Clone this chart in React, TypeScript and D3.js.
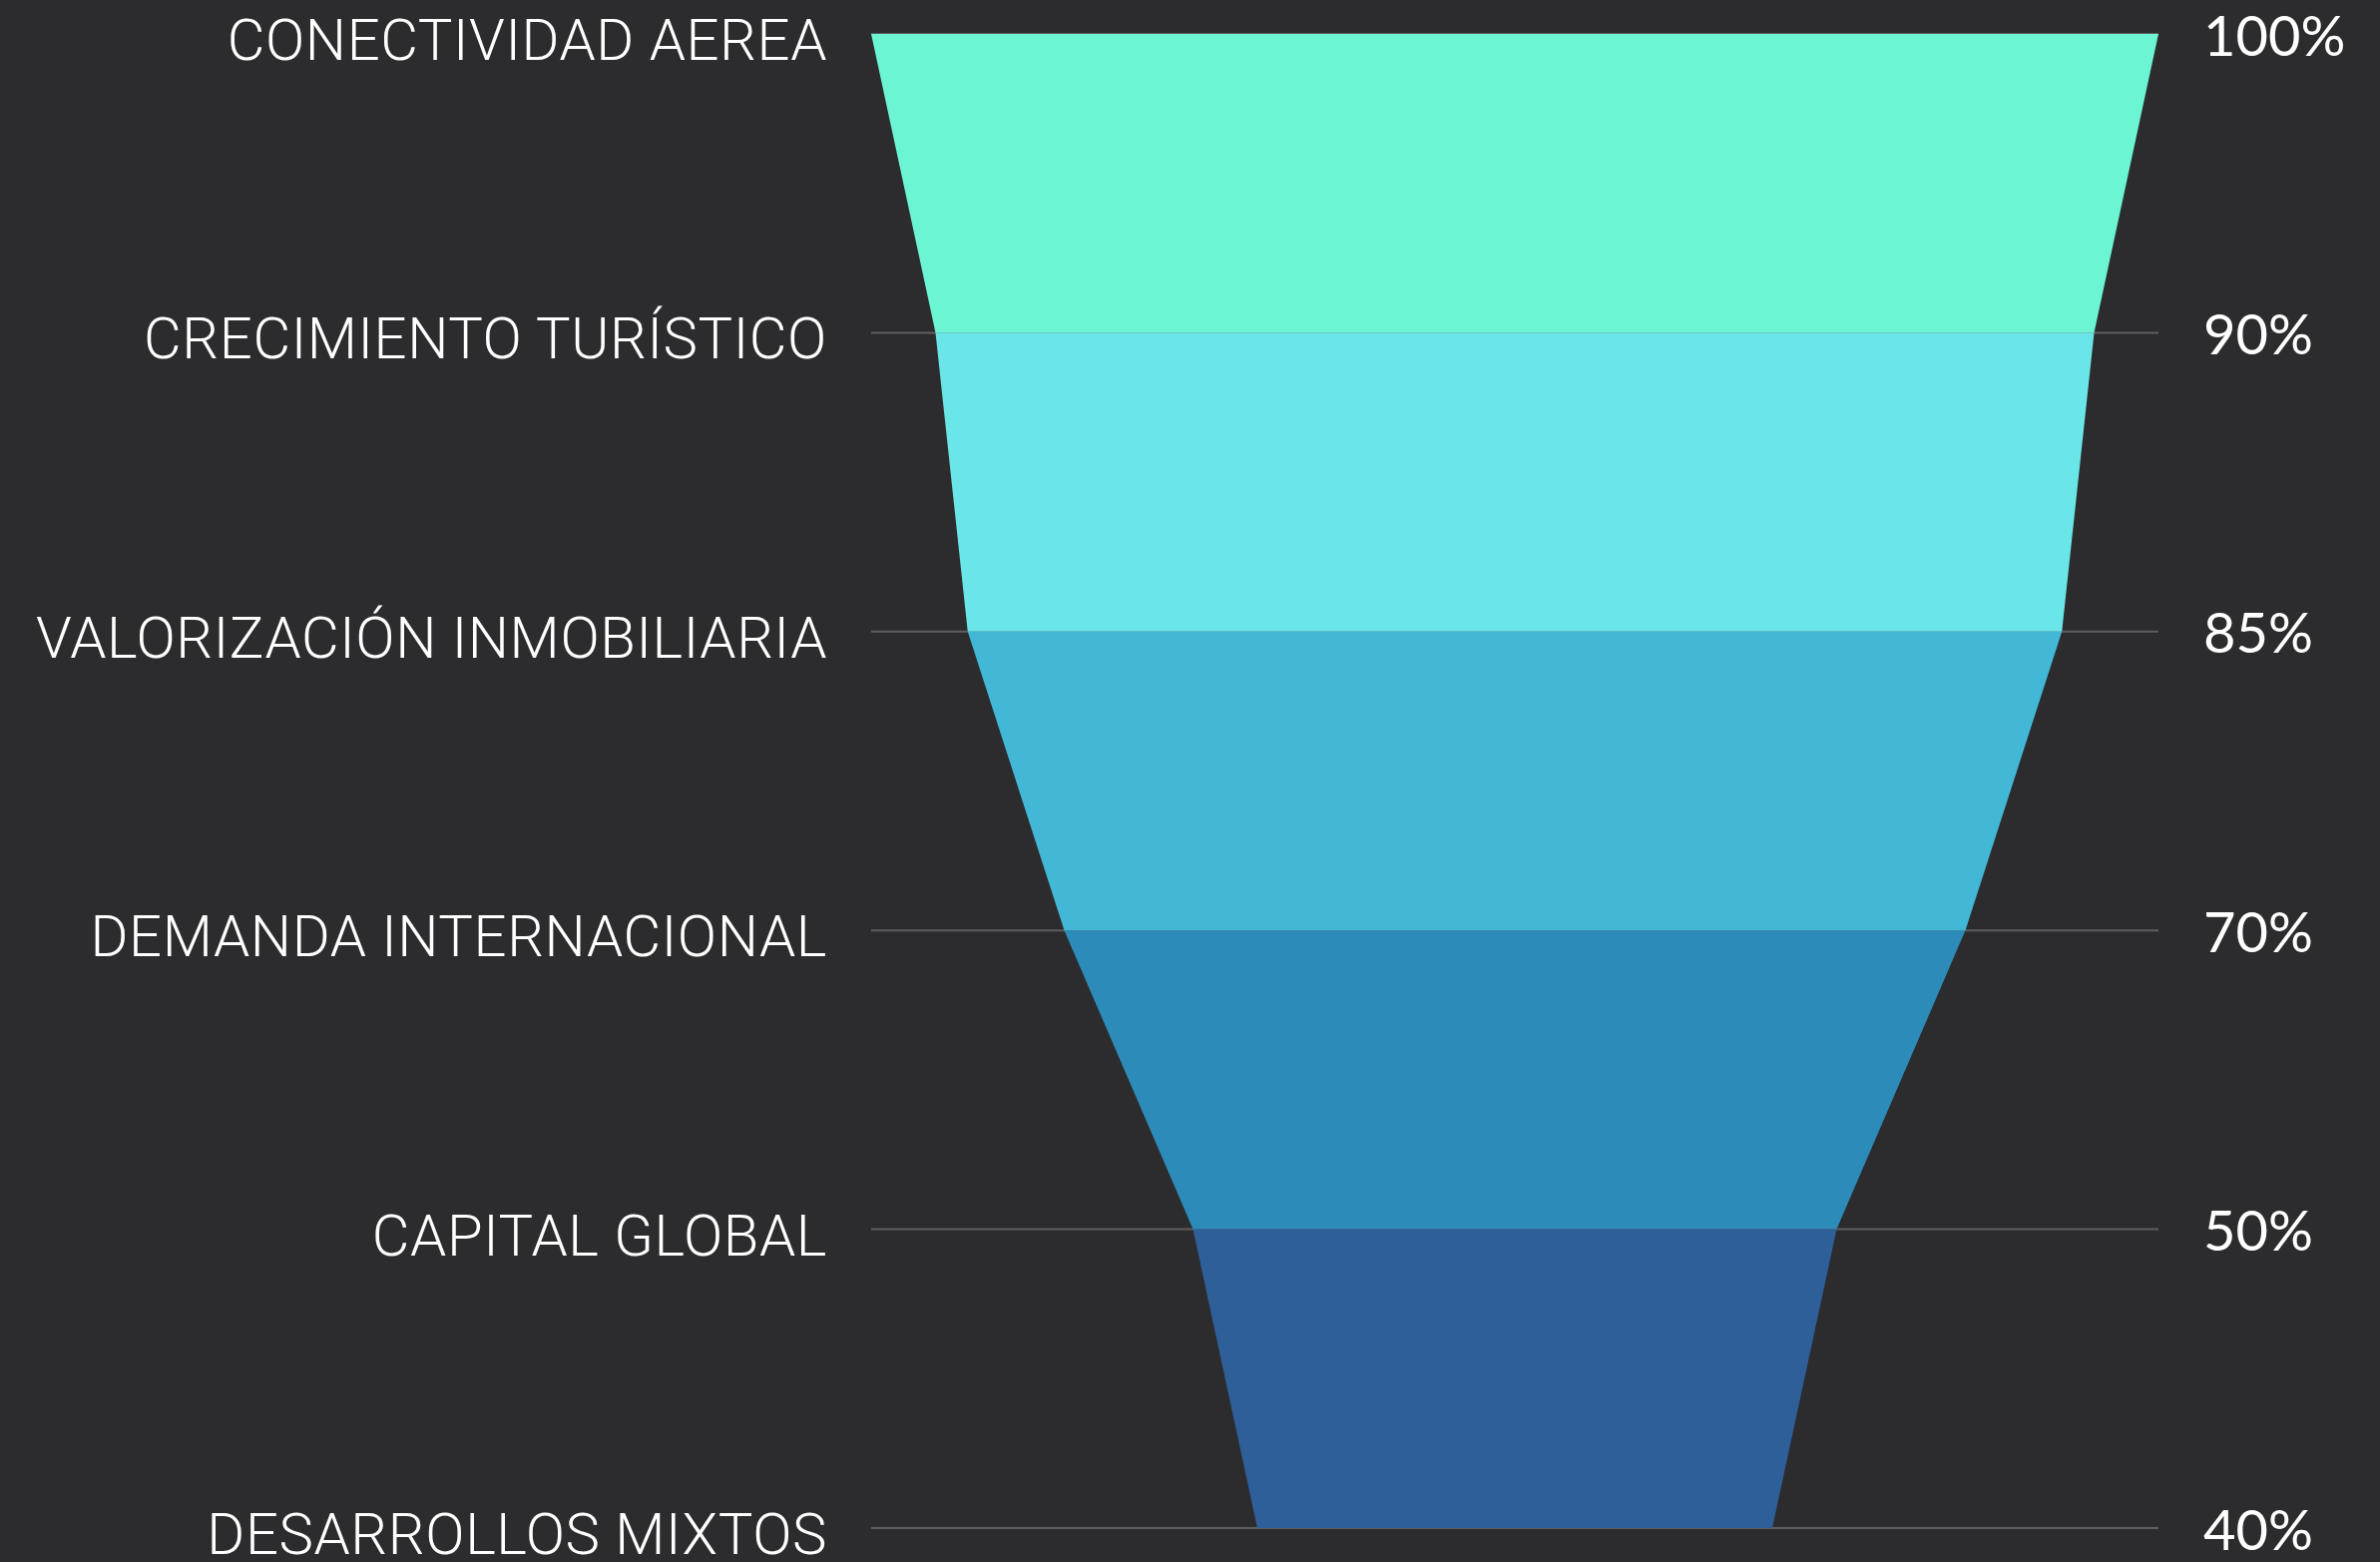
import { useEffect, useRef } from "react";
import * as d3 from "d3";

const stages = [
  "CONECTIVIDAD AEREA",
  "CRECIMIENTO TURÍSTICO",
  "VALORIZACIÓN INMOBILIARIA",
  "DEMANDA INTERNACIONAL",
  "CAPITAL GLOBAL",
  "DESARROLLOS MIXTOS",
];
const values = [100, 90, 85, 70, 50, 40];
const bandColors = ["#6cf5d3", "#6ae6e8", "#42b7d6", "#2d8bb9", "#2e5f99"];

const W = 2385;
const H = 1565;

export default function App() {
  const svgRef = useRef<SVGSVGElement>(null);

  useEffect(() => {
    document.body.style.margin = "0";
    if (!svgRef.current) return;
    const svg = d3.select(svgRef.current);
    svg.selectAll("*").remove();

    const left = 873;
    const right = 2163;
    const cx = (left + right) / 2;

    const y = d3.scalePoint<string>().domain(stages).range([34, 1531]);
    const w = d3.scaleLinear().domain([0, 100]).range([0, right - left]);

    svg.append("rect").attr("width", W).attr("height", H).attr("fill", "#2c2c2e");

    // grid lines
    svg
      .selectAll(".grid")
      .data(stages)
      .join("line")
      .attr("x1", left)
      .attr("x2", right)
      .attr("y1", (d) => y(d)!)
      .attr("y2", (d) => y(d)!)
      .attr("stroke", "#5e5e60")
      .attr("stroke-width", 2);

    const line = d3.line<[number, number]>();
    const bands = d3.range(values.length - 1);
    svg
      .selectAll(".band")
      .data(bands)
      .join("path")
      .attr("d", (i) => {
        const y0 = y(stages[i])!;
        const y1 = y(stages[i + 1])!;
        const h0 = w(values[i]) / 2;
        const h1 = w(values[i + 1]) / 2;
        return (
          line([
            [cx - h0, y0],
            [cx + h0, y0],
            [cx + h1, y1],
            [cx - h1, y1],
          ]) + "Z"
        );
      })
      .attr("fill", (i) => bandColors[i]);

    svg
      .selectAll(".stage-label")
      .data(stages)
      .join("text")
      .attr("x", 829)
      .attr("y", (d) => y(d)! + 6)
      .attr("text-anchor", "end")
      .attr("dominant-baseline", "central")
      .attr("fill", "#ffffff")
      .attr("font-size", "58px")
      .attr("font-weight", 300)
      .attr("letter-spacing", "0.6px")
      .attr("font-family", "Roboto, sans-serif")
      .text((d) => d);

    svg
      .selectAll(".value-label")
      .data(values)
      .join("text")
      .attr("x", 2208)
      .attr("y", (_, i) => y(stages[i])!)
      .attr("dominant-baseline", "central")
      .attr("fill", "#ffffff")
      .attr("font-size", "56px")
      .attr("font-family", "Lato, sans-serif")
      .text((d) => `${d}%`);
  }, []);

  return <svg ref={svgRef} width={W} height={H} style={{ display: "block" }} />;
}
